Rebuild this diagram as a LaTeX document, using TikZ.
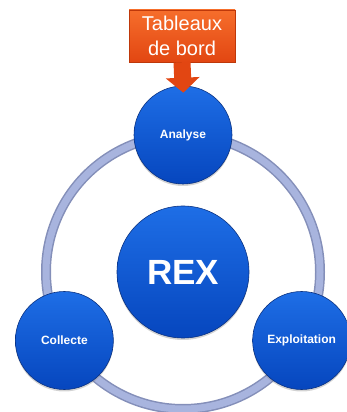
\documentclass[tikz,border=0pt]{standalone}
\usepackage{fontspec}
\setmainfont{Liberation Sans}
\usetikzlibrary{arrows.meta, shadows}

\definecolor{balltop}{RGB}{30,110,230}
\definecolor{ballbot}{RGB}{6,70,190}
\definecolor{ballrim}{RGB}{10,50,130}
\definecolor{ringdark}{RGB}{132,143,185}
\definecolor{ringlight}{RGB}{168,180,222}
\definecolor{tbtop}{RGB}{246,110,44}
\definecolor{tbbot}{RGB}{226,70,18}
\definecolor{tbrim}{RGB}{190,56,10}

\tikzset{
  ball/.style={circle, minimum size=98pt, inner sep=0pt, text=white,
    top color=balltop, bottom color=ballbot, draw=ballrim, line width=.6pt,
    drop shadow={shadow xshift=0pt, shadow yshift=-2pt, opacity=.35},
    font=\bfseries\fontsize{12}{14}\selectfont},
  bigball/.style={ball, minimum size=132pt, font=\bfseries\fontsize{35}{40}\selectfont},
  tbbox/.style={rectangle, minimum width=106pt, minimum height=52pt, inner sep=0pt,
    align=center, text=white, top color=tbtop, bottom color=tbbot, draw=tbrim,
    line width=.5pt, font=\fontsize{20}{25}\selectfont},
  tbarrow/.style={draw=tbbot, line width=17pt,
    -{Triangle[width=33pt, length=15pt]}, shorten >=-7pt}
}

\begin{document}
\begin{tikzpicture}[x=1pt, y=1pt]
  \useasboundingbox (0,0) rectangle (347,412);
  \clip (0,0) rectangle (347,412);
  \coordinate (c) at (183,140);
  % ring
  \draw[ringdark, line width=10pt] (c) circle (137);
  \draw[ringlight, line width=7pt] (c) circle (137);
  \node[bigball] (rex) at (c) {REX};
  \foreach \a/\n/\t in {90/an/Analyse, 210/co/Collecte, 330/ex/Exploitation}
    \node[ball] (\n) at ([shift={(\a:137)}]c) {\t};
  \node[tbbox] (tb) at (182,376) {Tableaux\\de bord};
  \draw[tbarrow] (tb.south) -- (an.north);
\end{tikzpicture}
\end{document}
